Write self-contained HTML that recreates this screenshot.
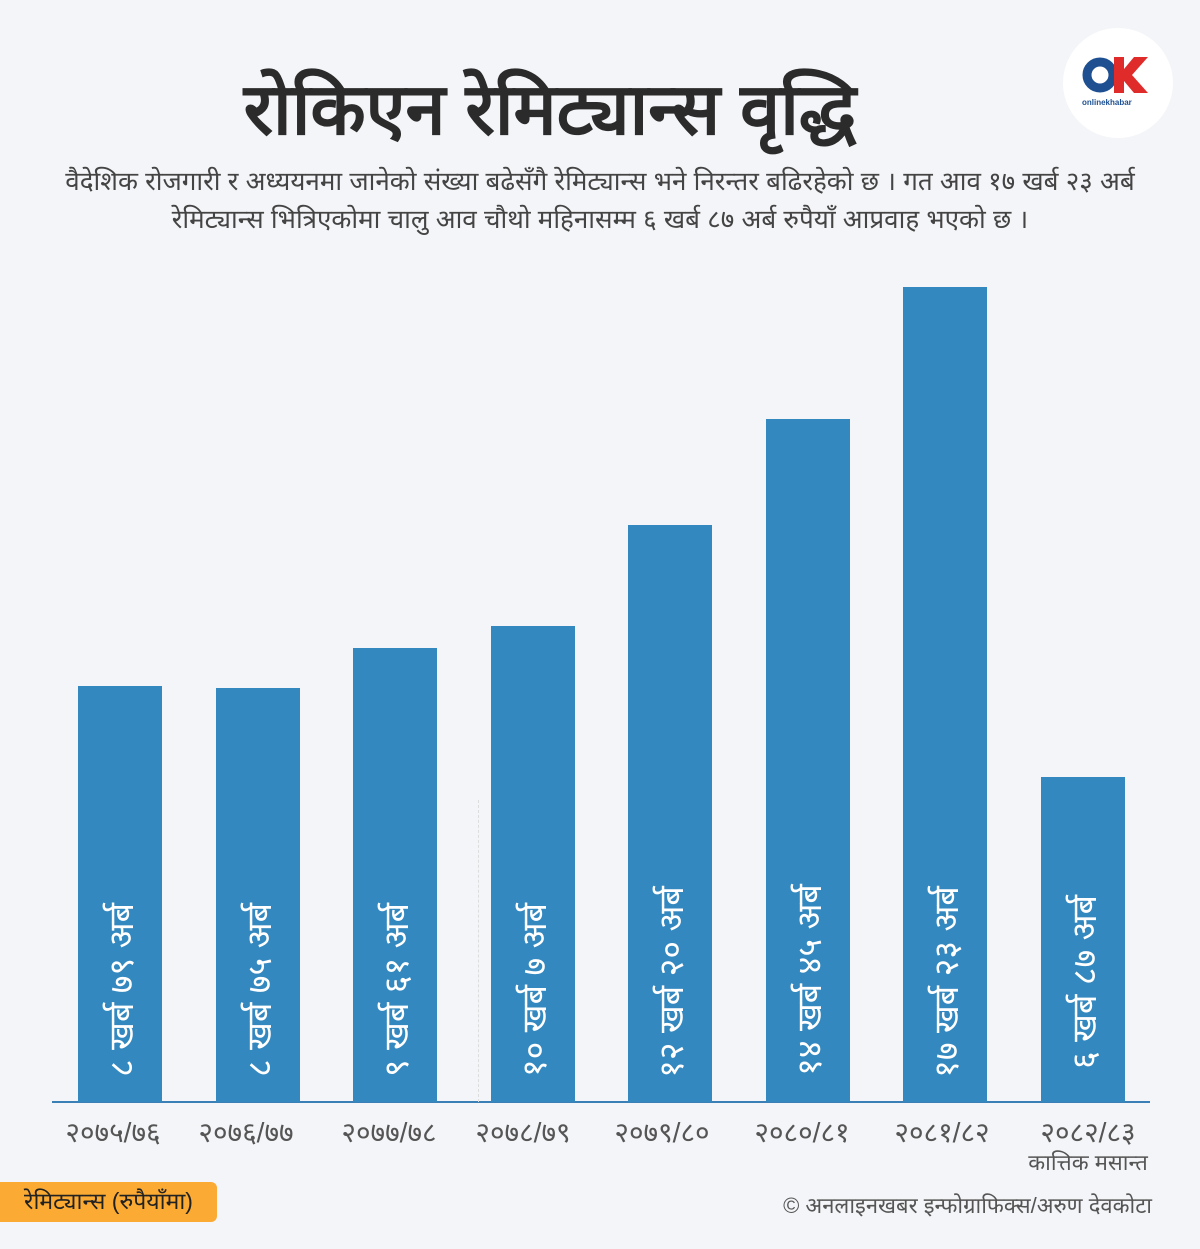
<!DOCTYPE html>
<html><head><meta charset="utf-8"><style>
body{margin:0;width:1200px;height:1249px;background:#f4f5f8;position:relative;overflow:hidden;font-family:"Liberation Sans",sans-serif;color:#333}
.t{position:absolute;left:0;width:1100px;top:58px;text-align:center;font-size:72px;font-weight:bold;color:#2b2b2b}
.s{position:absolute;left:20px;width:1160px;top:162px;text-align:center;font-size:26px;line-height:38px;color:#444}
.bar{position:absolute;background:#3388bf;width:84px}
.lab{position:absolute;color:#fff;font-size:34px;white-space:nowrap;transform:translate(-50%,-50%) rotate(-90deg)}
.x{position:absolute;top:1113px;width:160px;text-align:center;font-size:28px;color:#555}
.g{position:absolute;top:800px;height:302px;border-left:1px dashed #ddd}
</style></head><body>
<div class="t">रोकिएन रेमिट्यान्स वृद्धि</div>
<div class="s">वैदेशिक रोजगारी र अध्ययनमा जानेको संख्या बढेसँगै रेमिट्यान्स भने निरन्तर बढिरहेको छ । गत आव १७ खर्ब २३ अर्ब रेमिट्यान्स भित्रिएकोमा चालु आव चौथो महिनासम्म ६ खर्ब ८७ अर्ब रुपैयाँ आप्रवाह भएको छ ।</div>
<div style="position:absolute;left:1063px;top:28px;width:110px;height:110px;border-radius:50%;background:#fff"></div>
<svg style="position:absolute;left:1080px;top:55px" width="80" height="50"><circle cx="20" cy="20" r="13" fill="none" stroke="#1d4f91" stroke-width="9"/><polygon points="34,2 44,2 44,14 54,2 68,2 52,20 68,38 54,38 44,26 44,38 34,38" fill="#e02b2b"/><text x="2" y="50" font-size="8" fill="#1d4f91" font-weight="bold">onlinekhabar</text></svg>
<div style="position:absolute;left:52px;top:1101px;width:1098px;height:2px;background:#3a7fb5"></div>
<div class="g" style="left:478px"></div>
<div class="bar" style="left:78px;top:686px;height:416px"></div>
<div class="bar" style="left:216px;top:688px;height:414px"></div>
<div class="bar" style="left:353px;top:648px;height:454px"></div>
<div class="bar" style="left:491px;top:626px;height:476px"></div>
<div class="bar" style="left:628px;top:525px;height:577px"></div>
<div class="bar" style="left:766px;top:419px;height:683px"></div>
<div class="bar" style="left:903px;top:287px;height:815px"></div>
<div class="bar" style="left:1041px;top:777px;height:325px"></div>
<div class="lab" style="left:120px;top:990px">८ खर्ब ७९ अर्ब</div>
<div class="lab" style="left:258px;top:990px">८ खर्ब ७५ अर्ब</div>
<div class="lab" style="left:395px;top:990px">९ खर्ब ६१ अर्ब</div>
<div class="lab" style="left:533px;top:990px">१० खर्ब ७ अर्ब</div>
<div class="lab" style="left:670px;top:982px">१२ खर्ब २० अर्ब</div>
<div class="lab" style="left:808px;top:980px">१४ खर्ब ४५ अर्ब</div>
<div class="lab" style="left:945px;top:982px">१७ खर्ब २३ अर्ब</div>
<div class="lab" style="left:1083px;top:982px">६ खर्ब ८७ अर्ब</div>
<div class="x" style="left:33px">२०७५/७६</div>
<div class="x" style="left:166px">२०७६/७७</div>
<div class="x" style="left:309px">२०७७/७८</div>
<div class="x" style="left:443px">२०७८/७९</div>
<div class="x" style="left:582px">२०७९/८०</div>
<div class="x" style="left:722px">२०८०/८१</div>
<div class="x" style="left:862px">२०८१/८२</div>
<div class="x" style="left:1008px">२०८२/८३<br><span style="font-size:22px;position:relative;top:-6px">कात्तिक मसान्त</span></div>
<div style="position:absolute;left:0;top:1182px;width:217px;height:40px;background:#fbaa33;border-radius:0 6px 6px 0;font-size:23px;line-height:38px;text-align:center;color:#222">रेमिट्यान्स (रुपैयाँमा)</div>
<div style="position:absolute;right:48px;top:1190px;font-size:22px;color:#555">© अनलाइनखबर इन्फोग्राफिक्स/अरुण देवकोटा</div>
</body></html>
